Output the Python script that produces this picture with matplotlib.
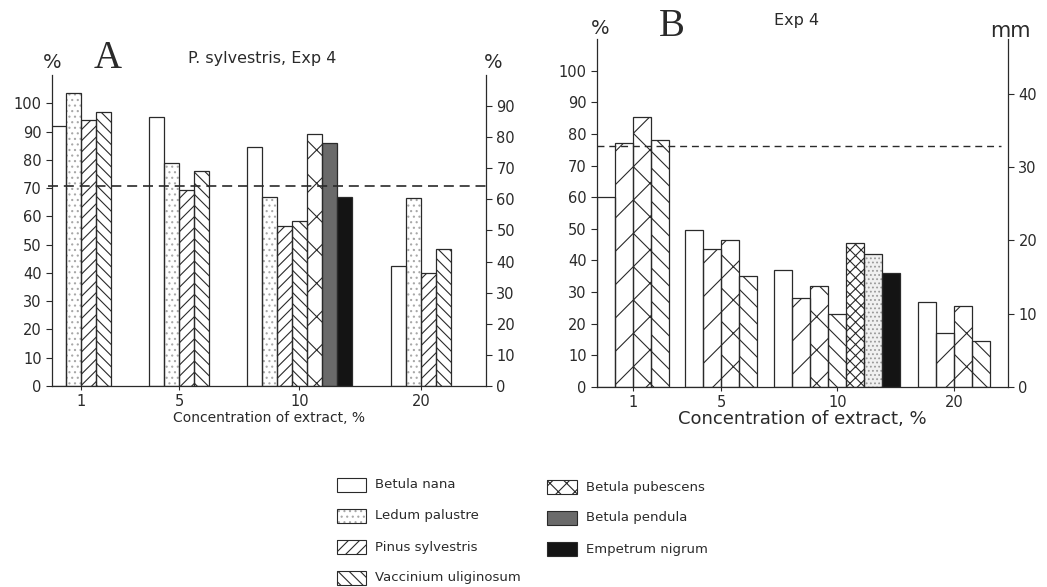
import numpy as np
import matplotlib
matplotlib.use('Agg')
import matplotlib.pyplot as plt

plt.rcParams['font.family'] = ['DejaVu Sans']
plt.rcParams['hatch.linewidth'] = 0.8
INK = '#2a2a2a'

# ===================== data =====================
conc = ['1', '5', '10', '20']

# panel A (% , P. sylvestris, Exp 4)
a_betula_nana = [92, 95, 84.5, 42.5]
a_ledum = [103.5, 79, 67, 66.5]
a_pinus = [94, 69.5, 56.5, 40]
a_vaccinium = [97, 76, 58.5, 48.5]
a_pubescens = [None, None, 89, None]
a_pendula = [None, None, 86, None]
a_empetrum = [None, None, 67, None]
a_control = 70.7

# panel B (% , Exp 4)
b_white = [60, 49.5, 37, 27]
b_diag = [77, 43.5, 28, 17]
b_cross = [85.5, 46.5, 32, 25.5]
b_back = [78, 35, 23, 14.5]
b_dense = [None, None, 45.5, None]
b_dots = [None, None, 42, None]
b_black = [None, None, 36, None]
b_control = 76.3

legend_left = ['Betula nana', 'Ledum palustre', 'Pinus sylvestris', 'Vaccinium uliginosum']
legend_right = ['Betula pubescens', 'Betula pendula', 'Empetrum nigrum']

# ===================== styles =====================
# (face, hatch, hatch colour)
st_white = ('white', None, INK)
st_dots_a = ('white', '...', '#a8a8a8')
st_diag_a = ('white', '///', INK)
st_back_a = ('white', '\\\\\\', INK)
st_cross_a = ('white', 'x', INK)
st_grey = ('#6a6a6a', None, INK)
st_black = ('#141414', None, INK)
st_diag_b = ('white', '/', INK)
st_cross_b = ('white', 'x', INK)
st_back_b = ('white', '\\\\', INK)
st_dense_b = ('white', 'xxx', INK)
st_dots_b = ('#f0f0f0', '....', '#9a9a9a')

W, H = 1047, 587
fig = plt.figure(figsize=(W / 100, H / 100), dpi=100)


def px_axes(l, t, r, b):
    return fig.add_axes([l / W, 1 - b / H, (r - l) / W, (b - t) / H])


def draw_bar(ax, x, h, st):
    face, hatch, hc = st
    ax.bar(x, h, width=1.0, color=face, hatch=hatch, edgecolor=hc, linewidth=0, zorder=2)
    ax.bar(x, h, width=1.0, fill=False, edgecolor=INK, linewidth=0.9, zorder=3)


def draw_panel(ax, centers, series, styles):
    for g, c in enumerate(centers):
        present = [(s, st) for s, st in zip(series, styles) if s[g] is not None]
        n = len(present)
        for i, (s, st) in enumerate(present):
            draw_bar(ax, c + i - (n - 1) / 2, s[g], st)


def style_axes(ax, ax2):
    for a in (ax, ax2):
        for sp in a.spines.values():
            sp.set_color(INK)
            sp.set_linewidth(0.9)
        a.spines['top'].set_visible(False)
        a.tick_params(colors=INK, labelcolor=INK, length=4, width=0.8, labelsize=10.5)
    ax.spines['right'].set_visible(False)
    ax2.spines['left'].set_visible(False)
    ax2.spines['bottom'].set_visible(False)


# ===================== panel A =====================
axA = px_axes(52, 75, 486, 386)
centersA = [2.0, 8.5, 16.5, 24.6]
draw_panel(axA, centersA,
           [a_betula_nana, a_ledum, a_pinus, a_vaccinium, a_pubescens, a_pendula, a_empetrum],
           [st_white, st_dots_a, st_diag_a, st_back_a, st_cross_a, st_grey, st_black])
axA.set_xlim(0.05, 28.9)
axA.set_ylim(0, 110)
axA.set_yticks(range(0, 101, 10))
axA.set_xticks(centersA)
axA.set_xticklabels(conc)
axA.plot([-0.2, 28.9], [a_control] * 2, ls=(0, (6, 3.5)), color=INK, lw=1.2, zorder=4, clip_on=False)
axA2 = axA.twinx()
axA2.set_ylim(0, 110 / 1.1)
axA2.set_yticks(range(0, 91, 10))
style_axes(axA, axA2)
axA.tick_params(axis='x', length=3, pad=3)
axA.set_xlabel('Concentration of extract, %', fontsize=10, color=INK, labelpad=1)

fig.text(52 / W, 1 - 62 / H, '%', fontsize=14, color=INK, ha='center', va='center')
fig.text(493 / W, 1 - 62 / H, '%', fontsize=14, color=INK, ha='center', va='center')
fig.text(108 / W, 1 - 58 / H, 'A', fontsize=28, color=INK, ha='center', va='center',
         family='Liberation Serif')
fig.text(262 / W, 1 - 58 / H, 'P. sylvestris, Exp 4', fontsize=11.5, color=INK, ha='center', va='center')

# ===================== panel B =====================
axB = px_axes(597, 39, 1008, 387)
centersB = [2.04, 6.94, 13.4, 19.87]
draw_panel(axB, centersB,
           [b_white, b_diag, b_cross, b_back, b_dense, b_dots, b_black],
           [st_white, st_diag_b, st_cross_b, st_back_b, st_dense_b, st_dots_b, st_black])
axB.set_xlim(0.05, 22.87)
axB.set_ylim(0, 110)
axB.set_yticks(range(0, 101, 10))
axB.set_xticks(centersB)
axB.set_xticklabels(conc)
axB.plot([0.05, 22.5], [b_control] * 2, ls=(0, (5, 3.5)), color=INK, lw=1.0, zorder=4)
axB2 = axB.twinx()
axB2.set_ylim(0, 110 * 9.5 / 22)
axB2.set_yticks(range(0, 41, 10))
style_axes(axB, axB2)
axB.tick_params(axis='x', length=3, pad=3)
axB.set_xlabel('Concentration of extract, %', fontsize=13, color=INK, labelpad=0)

fig.text(600 / W, 1 - 28 / H, '%', fontsize=14, color=INK, ha='center', va='center')
fig.text(672 / W, 1 - 26 / H, 'B', fontsize=28, color=INK, ha='center', va='center',
         family='Liberation Serif')
fig.text(797 / W, 1 - 20 / H, 'Exp 4', fontsize=11.5, color=INK, ha='center', va='center')
fig.text(1010 / W, 1 - 31 / H, 'mm', fontsize=15, color=INK, ha='center', va='center')

# ===================== legend =====================
leg = fig.add_axes([0, 0, 1, 1], facecolor='none')
leg.set_xlim(0, W)
leg.set_ylim(H, 0)
leg.axis('off')
left_styles = [st_white, st_dots_a, st_diag_a, st_back_a]
right_styles = [('white', 'xx', INK), st_grey, st_black]
for i, (name, st) in enumerate(zip(legend_left, left_styles)):
    y = 485 + i * 31
    leg.add_patch(plt.Rectangle((337, y - 7), 29, 14, facecolor=st[0], hatch=st[1],
                                edgecolor=st[2], lw=0))
    leg.add_patch(plt.Rectangle((337, y - 7), 29, 14, fill=False, edgecolor=INK, lw=0.8))
    leg.text(375, y, name, fontsize=9.5, color=INK, va='center')
for i, (name, st) in enumerate(zip(legend_right, right_styles)):
    y = 487 + i * 31
    leg.add_patch(plt.Rectangle((547, y - 7), 30, 14, facecolor=st[0], hatch=st[1],
                                edgecolor=st[2], lw=0))
    leg.add_patch(plt.Rectangle((547, y - 7), 30, 14, fill=False, edgecolor=INK, lw=0.8))
    leg.text(586, y, name, fontsize=9.5, color=INK, va='center')

fig.savefig('out.png', dpi=100)
